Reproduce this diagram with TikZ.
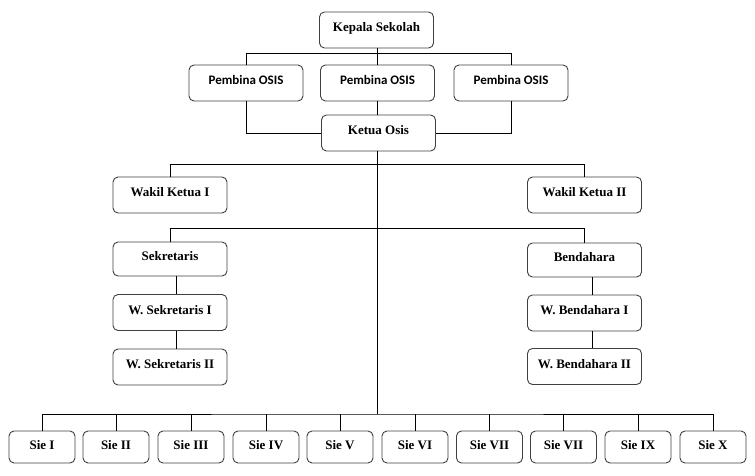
\documentclass[tikz,border=0pt]{standalone}
\usepackage{fontspec}
\setmainfont{Liberation Serif}
\newfontfamily\calib{Carlito}
\begin{document}
\begin{tikzpicture}[x=1pt,y=-1pt,
  box/.style={draw=black!75, line width=0.9pt, rounded corners=5pt, fill=white,
    minimum width=114pt, minimum height=36pt, inner sep=0pt,
    font=\fontsize{13pt}{15pt}\selectfont\bfseries, text height=8pt, text depth=5pt},
  pbox/.style={box, font=\fontsize{13pt}{15pt}\selectfont\calib\bfseries},
  sbox/.style={box, minimum width=66pt, minimum height=32pt, text depth=3pt},
  conn/.style={line width=0.8pt, black}]
\useasboundingbox (0,0) rectangle (755,476);
% top
\node[box] (kep) at (376.5,30) {Kepala Sekolah};
\node[pbox] (pl) at (246,83) {Pembina OSIS};
\node[pbox] (pm) at (377.5,83) {Pembina OSIS};
\node[pbox] (pr) at (511,83) {Pembina OSIS};
\node[box] (ket) at (378.5,133) {Ketua Osis};
% wakil
\node[box] (wk1) at (170,195) {Wakil Ketua I};
\node[box] (wk2) at (584.5,195) {Wakil Ketua II};
% sekretaris
\node[box, minimum height=34pt] (sek) at (170,259) {Sekretaris};
\node[box] (ws1) at (170,312.5) {W. Sekretaris I};
\node[box] (ws2) at (170,367) {W. Sekretaris II};
% bendahara
\node[box, minimum height=34pt] (ben) at (584.5,260) {Bendahara};
\node[box] (wb1) at (584.5,313) {W. Bendahara I};
\node[box] (wb2) at (584.5,366.5) {W. Bendahara II};
% sie
\node[sbox] (s1) at (42,447) {Sie I};
\node[sbox] (s2) at (116,447) {Sie II};
\node[sbox] (s3) at (191,447) {Sie III};
\node[sbox] (s4) at (266,447) {Sie IV};
\node[sbox] (s5) at (340,447) {Sie V};
\node[sbox] (s6) at (415,447) {Sie VI};
\node[sbox] (s7) at (489.5,447) {Sie VII};
\node[sbox] (s8) at (563.5,447) {Sie VII};
\node[sbox] (s9) at (638,447) {Sie IX};
\node[sbox] (s10) at (713,447) {Sie X};
\coordinate (trunk) at (377,414);
% connectors
\begin{scope}[conn]
\draw (kep.south -| trunk) -- ++(0,5) coordinate (pbar);
\draw (pl.north) |- (pbar) -| (pr.north);
\draw (pbar) -- (pm.north -| trunk);
\draw (pm.south -| trunk) -- (ket.north -| trunk);
\draw (pl.south) |- (ket.west);
\draw (pr.south) |- (ket.east);
\draw (ket.south -| trunk) -- (trunk);
\draw (wk1.north) -- ++(0,-12) -| (wk2.north);
\draw (sek.north) -- ++(0,-13) -| (ben.north);
\draw ([xshift=6pt]sek.south) -- ([xshift=6pt]ws1.north);
\draw ([xshift=6pt]ws1.south) -- ([xshift=6pt]ws2.north);
\draw ([xshift=7.5pt]ben.south) -- ([xshift=7.5pt]wb1.north);
\draw ([xshift=7.5pt]wb1.south) -- ([xshift=7.5pt]wb2.north);
\draw (s1.north) |- (trunk) -| (s10.north);
\foreach \s in {s2,s3,s4,s5,s6,s7,s8,s9} \draw (\s.north) -- (\s.north |- trunk);
\end{scope}
\end{tikzpicture}
\end{document}
